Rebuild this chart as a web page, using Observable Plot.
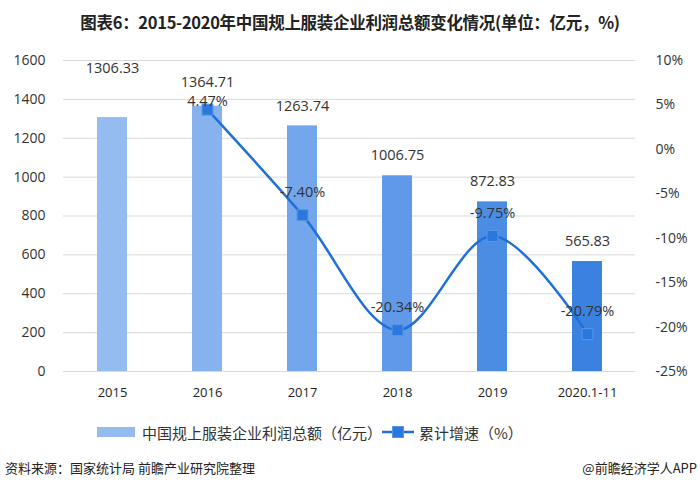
<!DOCTYPE html>
<html>
<head>
<meta charset="utf-8">
<script src="https://cdn.jsdelivr.net/npm/d3@7"></script>
<script src="https://cdn.jsdelivr.net/npm/@observablehq/plot@0.6"></script>
<style>
  html, body { margin: 0; padding: 0; background: #fff; }
  #wrap { position: relative; width: 700px; height: 488px; overflow: hidden; font-family: "Noto Sans CJK SC", "Noto Sans", sans-serif; }
  #title { height: 36px; line-height: 44px; text-align: center; font-weight: bold; font-size: 16.5px; color: #222; letter-spacing: -0.3px; }
  #chart svg { display: block; }
  #legend { position: absolute; top: 420px; left: 0; width: 700px; height: 24px; font-size: 15px; color: #333; }
  .lg { position: absolute; top: 0; display: flex; align-items: center; height: 24px; }
  #foot { position: absolute; top: 458px; left: 5px; right: 3px; font-size: 13px; color: #222; display: flex; justify-content: space-between; }
</style>
</head>
<body>
<div id="wrap">
  <div id="title">图表6：2015-2020年中国规上服装企业利润总额变化情况(单位：亿元，%)</div>
  <div id="chart"></div>
  <div id="legend">
    <div class="lg" style="left:97px;">
      <svg width="38" height="10" style="margin-right:7px"><rect width="38" height="10" fill="#94BCF0"></rect></svg>
      <span>中国规上服装企业利润总额（亿元）</span>
    </div>
    <div class="lg" style="left:382px;">
      <svg width="32" height="12" style="margin-right:5px"><line x1="0" x2="32" y1="6" y2="6" stroke="#1F6FD8" stroke-width="2.5"></line><rect x="10.5" y="0.5" width="11" height="11" fill="#2A78DE" stroke="#5A96E6"></rect></svg>
      <span>累计增速（%）</span>
    </div>
  </div>
  <div id="foot"><span>资料来源：国家统计局 前瞻产业研究院整理</span><span>@前瞻经济学人APP</span></div>
</div>
<script>
// ---- data ----
const years = ["2015", "2016", "2017", "2018", "2019", "2020.1-11"];
const profit = [1306.33, 1364.71, 1263.74, 1006.75, 872.83, 565.83];
const growthYears = ["2016", "2017", "2018", "2019", "2020.1-11"];
const growth = [4.47, -7.40, -20.34, -9.75, -20.79];
const leftTicks = [0, 200, 400, 600, 800, 1000, 1200, 1400, 1600];
const rightTicks = [-25, -20, -15, -10, -5, 0, 5, 10];

// ---- styles (not data) ----
const barColors = ["#94BCF0", "#86B3EE", "#73A6EB", "#5F99E7", "#4C8DE4", "#3B82E0"];
const barLabelDy = [-49, -24, -20, -20, -20, -20];
const lineLabelDy = [-8, -23, -23, -23, -23];

// right axis (%) mapped onto the left scale
const L0 = 0, L1 = 1600, R0 = -25, R1 = 10;
const toLeft = p => L0 + (p - R0) / (R1 - R0) * (L1 - L0);
const fromLeft = v => R0 + (v - L0) / (L1 - L0) * (R1 - R0);

const bars = years.map((y, i) => ({year: y, value: profit[i], i}));
const line = growthYears.map((y, i) => ({year: y, pct: growth[i], yl: toLeft(growth[i]), i}));

const numFont = "Open Sans, Noto Sans, sans-serif";

const plot = Plot.plot({
  width: 700,
  height: 374,
  marginTop: 24,
  marginBottom: 39,
  marginLeft: 63,
  marginRight: 65,
  style: {fontFamily: numFont, fontSize: "14px", color: "#333", background: "transparent"},
  x: {type: "band", domain: years, paddingInner: 0.685, paddingOuter: 0.3425, align: 0.5},
  y: {domain: [0, 1600]},
  color: {type: "ordinal", domain: years, range: barColors},
  marks: [
    Plot.gridY(leftTicks, {stroke: "#d9d9d9", strokeOpacity: 1, strokeWidth: 1}),
    Plot.axisY(leftTicks, {anchor: "left", tickSize: 0, tickPadding: 18, label: null, fontSize: 14, fill: "#333",
      tickFormat: v => String(v)}),
    Plot.axisY(rightTicks.map(toLeft), {anchor: "right", tickSize: 0, tickPadding: 20, label: null, fontSize: 14, fill: "#333",
      tickFormat: v => Math.round(fromLeft(v)) + "%"}),
    Plot.axisX({tickSize: 0, tickPadding: 16, label: null, fontSize: 13, fill: "#222"}),
    Plot.barY(bars, {x: "year", y: "value", fill: "year"}),
    Plot.line(line, {x: "year", y: "yl", stroke: "#1F6FD8", strokeWidth: 2.5, curve: "catmull-rom"}),
    Plot.dot(line, {x: "year", y: "yl", symbol: "square", r: 6.2, fill: "#2A78DE", stroke: "#5A96E6", strokeWidth: 1}),
    ...bars.map(b => Plot.text([b], {x: "year", y: "value", text: d => d.value.toFixed(2),
      dy: barLabelDy[b.i], fontSize: 14.5, fill: "#333"})),
    ...line.map(l => Plot.text([l], {x: "year", y: "yl", text: d => d.pct.toFixed(2) + "%",
      dy: lineLabelDy[l.i], fontSize: 14.5, fill: "#333"}))
  ]
});

document.getElementById("chart").appendChild(plot);
</script>
</body>
</html>
